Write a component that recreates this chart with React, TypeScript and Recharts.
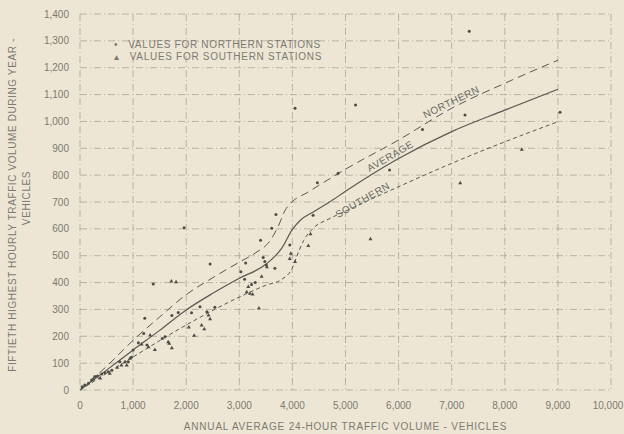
import {
  ComposedChart,
  Line,
  Scatter,
  XAxis,
  YAxis,
  CartesianGrid,
  ReferenceDot,
} from 'recharts';

// x = annual average 24-hour volume, y = 50th highest hourly volume
const xTicks = [0, 1000, 2000, 3000, 4000, 5000, 6000, 7000, 8000, 9000, 10000];
const yTicks = [0, 100, 200, 300, 400, 500, 600, 700, 800, 900, 1000, 1100, 1200, 1300, 1400];

const averageCurve = [
  { x: 0, y: 0 }, { x: 500, y: 74 }, { x: 1000, y: 149 }, { x: 1500, y: 222 },
  { x: 2000, y: 298 }, { x: 2500, y: 360 }, { x: 3000, y: 416 }, { x: 3500, y: 468 },
  { x: 3800, y: 528 }, { x: 4000, y: 598 }, { x: 4150, y: 632 }, { x: 4400, y: 664 },
  { x: 4700, y: 700 }, { x: 5000, y: 740 }, { x: 6000, y: 862 }, { x: 7000, y: 962 },
  { x: 8000, y: 1042 }, { x: 9000, y: 1120 },
];

const northernCurve = [
  { x: 0, y: 0 }, { x: 500, y: 88 }, { x: 1000, y: 185 }, { x: 1500, y: 272 },
  { x: 2000, y: 355 }, { x: 2500, y: 418 }, { x: 3000, y: 476 }, { x: 3300, y: 510 },
  { x: 3580, y: 556 }, { x: 3730, y: 608 }, { x: 3860, y: 668 }, { x: 4000, y: 702 },
  { x: 4270, y: 734 }, { x: 4500, y: 762 }, { x: 5000, y: 822 }, { x: 6000, y: 931 },
  { x: 7000, y: 1049 }, { x: 8000, y: 1142 }, { x: 9000, y: 1228 },
];

const southernCurve = [
  { x: 0, y: 0 }, { x: 500, y: 62 }, { x: 1000, y: 123 }, { x: 2000, y: 242 },
  { x: 3000, y: 346 }, { x: 3500, y: 390 }, { x: 3800, y: 412 }, { x: 4000, y: 455 },
  { x: 4080, y: 496 }, { x: 4210, y: 556 }, { x: 4390, y: 602 }, { x: 4710, y: 639 },
  { x: 5000, y: 666 }, { x: 6000, y: 757 }, { x: 7000, y: 844 }, { x: 8000, y: 924 },
  { x: 9000, y: 999 },
];

const northernStations = [
  { x: 40, y: 12 }, { x: 90, y: 19 }, { x: 160, y: 25 }, { x: 220, y: 37 }, { x: 280, y: 50 },
  { x: 330, y: 52 }, { x: 410, y: 60 }, { x: 470, y: 64 }, { x: 530, y: 68 }, { x: 600, y: 74 },
  { x: 750, y: 105 }, { x: 850, y: 105 }, { x: 910, y: 105 }, { x: 970, y: 122 },
  { x: 1000, y: 149 }, { x: 1100, y: 176 }, { x: 1200, y: 210 }, { x: 1220, y: 267 },
  { x: 1260, y: 168 }, { x: 1380, y: 395 }, { x: 1550, y: 192 }, { x: 1600, y: 198 },
  { x: 1730, y: 277 }, { x: 1850, y: 289 }, { x: 1960, y: 604 }, { x: 2100, y: 288 },
  { x: 2260, y: 310 }, { x: 2390, y: 291 }, { x: 2450, y: 469 }, { x: 2540, y: 308 },
  { x: 3030, y: 440 }, { x: 3100, y: 412 }, { x: 3120, y: 473 }, { x: 3230, y: 393 },
  { x: 3300, y: 400 }, { x: 3400, y: 558 }, { x: 3450, y: 493 }, { x: 3480, y: 478 },
  { x: 3510, y: 465 }, { x: 3610, y: 602 }, { x: 3670, y: 453 }, { x: 3690, y: 653 },
  { x: 3950, y: 540 }, { x: 4050, y: 1049 }, { x: 4390, y: 651 }, { x: 4470, y: 772 },
  { x: 4860, y: 807 }, { x: 5190, y: 1061 }, { x: 5830, y: 819 }, { x: 6450, y: 970 },
  { x: 7250, y: 1024 }, { x: 7330, y: 1336 }, { x: 9040, y: 1034 },
];

const southernStations = [
  { x: 250, y: 42 }, { x: 380, y: 45 }, { x: 560, y: 62 }, { x: 700, y: 85 },
  { x: 780, y: 93 }, { x: 880, y: 93 }, { x: 940, y: 118 }, { x: 1160, y: 171 },
  { x: 1290, y: 161 }, { x: 1320, y: 205 }, { x: 1410, y: 151 }, { x: 1660, y: 180 },
  { x: 1680, y: 174 }, { x: 1720, y: 406 }, { x: 1730, y: 157 }, { x: 1810, y: 403 },
  { x: 2050, y: 235 }, { x: 2150, y: 204 }, { x: 2290, y: 242 }, { x: 2340, y: 228 },
  { x: 2420, y: 279 }, { x: 2450, y: 265 }, { x: 3140, y: 366 }, { x: 3170, y: 385 },
  { x: 3200, y: 360 }, { x: 3250, y: 357 }, { x: 3370, y: 305 }, { x: 3420, y: 424 },
  { x: 3520, y: 459 }, { x: 3950, y: 490 }, { x: 3970, y: 509 }, { x: 4050, y: 478 },
  { x: 4300, y: 538 }, { x: 4340, y: 582 }, { x: 5470, y: 563 }, { x: 7160, y: 772 },
  { x: 8320, y: 896 },
];

const curveLabels = [
  { x: 7000, y: 1070, text: 'NORTHERN', angle: -26 },
  { x: 5850, y: 868, text: 'AVERAGE', angle: -30 },
  { x: 5330, y: 705, text: 'SOUTHERN', angle: -30 },
];

const FONT = '"Liberation Sans", Arial, sans-serif';
const INK = '#7c7a72';
const LINE = '#5a5852';

const fmt = (v: number) => v.toLocaleString('en-US');

const Dot = (props: any) => <circle cx={props.cx} cy={props.cy} r={1.5} fill="#4e4c47" />;

const Tri = (props: any) => {
  const { cx, cy } = props;
  return <path d={`M${cx},${cy - 2} L${cx + 2},${cy + 1.5} L${cx - 2},${cy + 1.5} Z`} fill="#4e4c47" />;
};

// last label sits against the page edge, nudge it in a bit
const XTick = (props: any) => {
  const { x, y, payload } = props;
  const last = payload.value === xTicks[xTicks.length - 1];
  return (
    <text x={last ? x - 3 : x} y={y} dy="0.71em" textAnchor="middle" fill={INK} fontSize={10} fontFamily={FONT}>
      {fmt(payload.value)}
    </text>
  );
};

const YTitle = (props: any) => {
  const vb = props.viewBox;
  const cy = vb.y + vb.height / 2;
  return (
    <g fontFamily={FONT} fontSize={10} fill={INK} letterSpacing={0.6}>
      <text x={13} y={cy + 3} transform={`rotate(-90 13 ${cy + 3})`} textAnchor="middle" dominantBaseline="middle">
        FIFTIETH HIGHEST HOURLY TRAFFIC VOLUME DURING YEAR -
      </text>
      <text x={27} y={cy - 4} transform={`rotate(-90 27 ${cy - 4})`} textAnchor="middle" dominantBaseline="middle">
        VEHICLES
      </text>
    </g>
  );
};

export default function App() {
  return (
    <div style={{ position: 'fixed', left: 0, top: 0, width: 624, height: 434, background: '#ede6d4' }}>
      <ComposedChart width={624} height={434} margin={{ top: 14, right: 13, left: 0, bottom: 0 }}>
        <CartesianGrid
          stroke="#aaa597"
          strokeWidth={0.8}
          strokeDasharray="7 3 1 3"
          horizontalValues={yTicks}
          verticalValues={xTicks}
        />
        <XAxis
          type="number"
          dataKey="x"
          domain={[0, 10000]}
          ticks={xTicks}
          axisLine={false}
          tickLine={false}
          tickMargin={6}
          height={44}
          interval={0}
          tick={<XTick />}
          label={{
            value: 'ANNUAL AVERAGE 24-HOUR TRAFFIC VOLUME - VEHICLES',
            position: 'insideBottom',
            offset: 4,
            fill: INK,
            fontSize: 10,
            fontFamily: FONT,
            letterSpacing: 0.8,
          }}
        />
        <YAxis
          type="number"
          dataKey="y"
          domain={[0, 1400]}
          ticks={yTicks}
          tickFormatter={fmt}
          axisLine={false}
          tickLine={false}
          tickMargin={5}
          width={80}
          interval={0}
          tick={{ fill: INK, fontSize: 10, fontFamily: FONT }}
          label={{ content: YTitle }}
        />
        <Line data={northernCurve} dataKey="y" type="monotone" stroke={LINE} strokeWidth={1} strokeDasharray="8 5" dot={false} isAnimationActive={false} />
        <Line data={averageCurve} dataKey="y" type="monotone" stroke={LINE} strokeWidth={1.2} dot={false} isAnimationActive={false} />
        <Line data={southernCurve} dataKey="y" type="monotone" stroke={LINE} strokeWidth={1} strokeDasharray="4 3" dot={false} isAnimationActive={false} />
        <Scatter data={northernStations} dataKey="y" shape={Dot} isAnimationActive={false} />
        <Scatter data={southernStations} dataKey="y" shape={Tri} isAnimationActive={false} />
        {curveLabels.map((c) => (
          <ReferenceDot
            key={c.text}
            x={c.x}
            y={c.y}
            r={1}
            fill="none"
            stroke="none"
            label={{
              content: (p: any) => {
                const cx = p.viewBox.x + p.viewBox.width / 2;
                const cy = p.viewBox.y + p.viewBox.height / 2;
                return (
                  <text
                    x={cx}
                    y={cy}
                    transform={`rotate(${c.angle} ${cx} ${cy})`}
                    textAnchor="middle"
                    dominantBaseline="middle"
                    fontFamily={FONT}
                    fontSize={10}
                    letterSpacing={0.6}
                    fill="#6a6862"
                  >
                    {c.text}
                  </text>
                );
              },
            }}
          />
        ))}
      </ComposedChart>
      <div
        style={{
          position: 'absolute',
          left: 114,
          top: 39,
          fontFamily: FONT,
          fontSize: 10,
          color: INK,
          letterSpacing: 0.7,
          lineHeight: '12px',
          whiteSpace: 'nowrap',
        }}
      >
        <div><span style={{ marginRight: 10 }}>•</span>VALUES FOR NORTHERN STATIONS</div>
        <div><span style={{ marginRight: 10 }}>▴</span>VALUES FOR SOUTHERN STATIONS</div>
      </div>
    </div>
  );
}
